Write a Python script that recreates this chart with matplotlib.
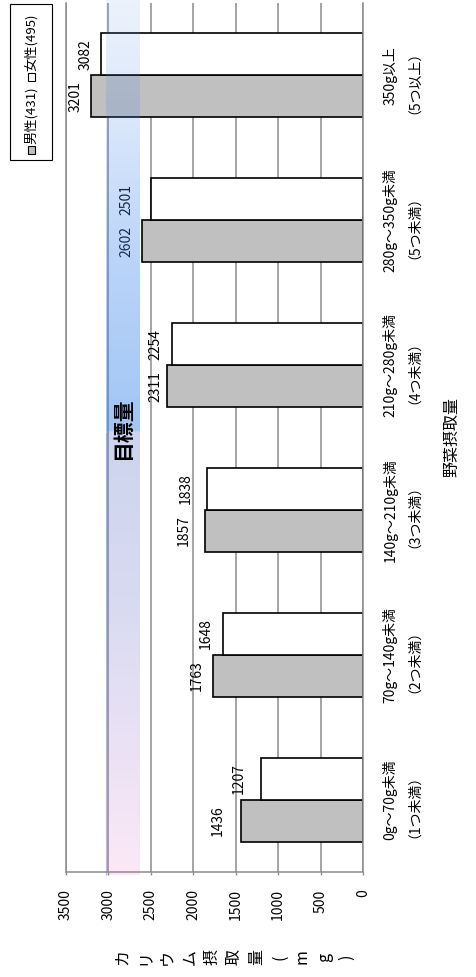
import numpy as np
import matplotlib.pyplot as plt
from matplotlib.patches import Rectangle
from matplotlib import transforms

plt.rcParams['font.family'] = ['Noto Sans CJK JP', 'DejaVu Sans']

# 野菜摂取量別のカリウム摂取量（平均値, mg）
categories = ['0g～70g未満\n（1つ未満）', '70g～140g未満\n（2つ未満）',
              '140g～210g未満\n（3つ未満）', '210g～280g未満\n（4つ未満）',
              '280g～350g未満\n（5つ未満）', '350g以上\n（5つ以上）']
male = [1436, 1763, 1857, 2311, 2602, 3201]
female = [1207, 1648, 1838, 2254, 2501, 3082]
value_ticks = [0, 500, 1000, 1500, 2000, 2500, 3000, 3500]
target_range = [2630, 3030]
legend_labels = ['男性(431)', '女性(495)']
y_title = 'カリウム摂取量(mg)'
x_title = '野菜摂取量'
band_title = '目標量'

# gap between bar end and its value label, in pixels
male_gap = [16, 10, 15, 4, 9, 9]
female_gap = [15, 10, 14, 9, 17, 9]

W, H = 476, 977
fig = plt.figure(figsize=(W / 100, H / 100), dpi=100)


def px(x, y):
    # pixel position (from top-left) -> figure fraction
    return x / W, 1 - y / H


ax = fig.add_axes([66 / W, 1 - 872 / H, 297 / W, 869 / H])

grid_c = '#8c8c8c'
y = np.arange(len(categories))
h = 0.29
ax.barh(y - h / 2, male, height=h, color='#c0c0c0', edgecolor='black', linewidth=1.2, zorder=2)
ax.barh(y + h / 2, female, height=h, color='white', edgecolor='black', linewidth=1.2, zorder=2)

for vals, gaps, off in ((male, male_gap, -h / 2), (female, female_gap, h / 2)):
    for i, (v, g) in enumerate(zip(vals, gaps)):
        ax.annotate(str(v), xy=(v, i + off), xytext=(-g * 0.72, 0), textcoords='offset points',
                    rotation=90, ha='right', va='center', fontsize=10, zorder=3)

# 目標量 band: vertical gradient, semi-transparent
stops = [  # (px from top, colour seen over white, alpha)
    (0, (236, 242, 252), 0.12),
    (120, (218, 231, 251), 0.2),
    (250, (188, 213, 249), 0.35),
    (430, (160, 198, 245), 0.45),
    (432, (204, 212, 238), 0.3),
    (600, (216, 218, 241), 0.25),
    (760, (236, 226, 245), 0.18),
    (875, (252, 232, 246), 0.12),
]
rows = np.arange(876)
pos = np.array([s[0] for s in stops])
img = np.zeros((len(rows), 1, 4))
for c in range(3):
    tgt = np.interp(rows, pos, [s[1][c] for s in stops])
    a = np.interp(rows, pos, [s[2] for s in stops])
    img[:, 0, c] = np.clip((tgt - (1 - a) * 255) / a, 0, 255) / 255
img[:, 0, 3] = np.interp(rows, pos, [s[2] for s in stops])
per_px = 6 / 869
band_lo, band_hi = -0.5 - 3 * per_px, 5.5 + 3 * per_px
ax.imshow(img, extent=(target_range[0], target_range[1], band_lo, band_hi),
          aspect='auto', zorder=4, clip_on=False, interpolation='bilinear')
ax.plot([target_range[1]] * 2, [band_lo, 5.5 - 430 * per_px], color='#6d95d8',
        alpha=0.5, linewidth=0.8, zorder=4, clip_on=False)
ax.text(np.mean(target_range), 0.51, band_title, rotation=90, ha='center', va='center',
        fontsize=15, fontweight='bold', zorder=5,
        transform=transforms.blended_transform_factory(ax.transData, ax.transAxes))

ax.set_xlim(3500, 0)
ax.set_ylim(-0.5, 5.5)
ax.set_xticks(value_ticks)
ax.grid(axis='x', color=grid_c, linewidth=1.1, zorder=0)
ax.set_axisbelow(True)
ax.spines['top'].set_visible(False)
for s in ('left', 'right', 'bottom'):
    ax.spines[s].set_color(grid_c)
    ax.spines[s].set_linewidth(1.1)
ax.tick_params(axis='x', direction='out', length=2.5, width=1, color=grid_c,
               labelrotation=90, labelsize=10, pad=10)
ax.yaxis.tick_right()
ax.set_yticks(y)
ax.set_yticklabels(categories, rotation=90, va='center', ha='left',
                   multialignment='center', fontsize=10)
ax.tick_params(axis='y', length=0, pad=14)

# axis titles
for i, ch in enumerate(y_title):
    fig.text(*px(122 + 22.5 * i, 957), ch, rotation=90, ha='center', va='center', fontsize=11.5)
fig.text(*px(452, 437), x_title, rotation=90, ha='center', va='center', fontsize=11.5)

# legend
x0, x1, y0, y1 = 10, 52, 4, 160
fig.patches.append(Rectangle(px(x0, y1), (x1 - x0) / W, (y1 - y0) / H, transform=fig.transFigure,
                             facecolor='white', edgecolor='black', linewidth=0.8))
xc = (x0 + x1) / 2
for (sq_y, txt_y), face, lab in zip(((150, 144), (77, 71)), ('#c0c0c0', 'white'), legend_labels):
    fig.patches.append(Rectangle(px(xc - 3.5, sq_y + 3.5), 7 / W, 7 / H, transform=fig.transFigure,
                                 facecolor=face, edgecolor='black', linewidth=0.8))
    fig.text(*px(xc, txt_y), lab, rotation=90, ha='center', va='bottom', fontsize=9.5)

fig.savefig('out.png', dpi=100)
